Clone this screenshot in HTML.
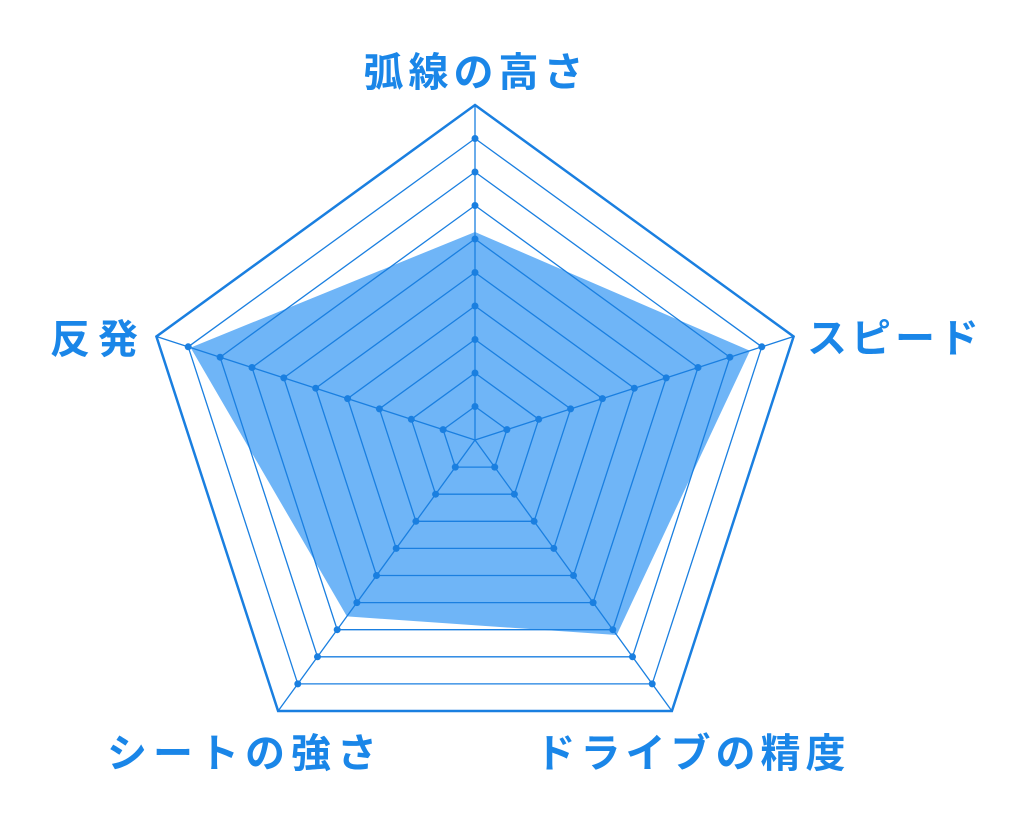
<!DOCTYPE html>
<html><head><meta charset="utf-8"><style>
html,body{margin:0;padding:0;background:#fff;}
svg{display:block}
text{font-family:"Liberation Sans","Noto Sans CJK JP",sans-serif;font-weight:bold;fill:#1a86e8;font-size:40px;}
</style></head><body>
<svg width="1024" height="819" viewBox="0 0 1024 819" xmlns="http://www.w3.org/2000/svg">
<rect x="0" y="0" width="1024" height="819" fill="#ffffff"/>
<polygon points="475,232 749.9,350.7 616.7,635 346.9,616.4 190.6,347.6" fill="#6fb5f7"/>
<g fill="none" stroke="#1a7fe0" stroke-width="1.3">
<polygon points="475,406.5 506.9,429.6 494.7,467.1 455.3,467.1 443.1,429.6"/>
<polygon points="475,373 538.7,419.3 514.4,494.2 435.6,494.2 411.3,419.3"/>
<polygon points="475,339.5 570.6,408.9 534.1,521.3 415.9,521.3 379.4,408.9"/>
<polygon points="475,306 602.4,398.6 553.8,548.4 396.2,548.4 347.6,398.6"/>
<polygon points="475,272.5 634.3,388.2 573.5,575.5 376.5,575.5 315.7,388.2"/>
<polygon points="475,239 666.2,377.9 593.1,602.6 356.9,602.6 283.8,377.9"/>
<polygon points="475,205.5 698,367.5 612.8,629.7 337.2,629.7 252,367.5"/>
<polygon points="475,172 729.9,357.2 632.5,656.8 317.5,656.8 220.1,357.2"/>
<polygon points="475,138.5 761.8,346.8 652.2,683.9 297.8,683.9 188.2,346.8"/>
<polygon points="475,105 793.6,336.5 671.9,711 278.1,711 156.4,336.5" stroke-width="2.5"/>
<line x1="475" y1="440" x2="475" y2="105"/>
<line x1="475" y1="440" x2="793.6" y2="336.5"/>
<line x1="475" y1="440" x2="671.9" y2="711"/>
<line x1="475" y1="440" x2="278.1" y2="711"/>
<line x1="475" y1="440" x2="156.4" y2="336.5"/>
</g>
<g fill="#1a7fe0">
<circle cx="475" cy="406.5" r="3.5"/><circle cx="506.9" cy="429.6" r="3.5"/><circle cx="494.7" cy="467.1" r="3.5"/><circle cx="455.3" cy="467.1" r="3.5"/><circle cx="443.1" cy="429.6" r="3.5"/>
<circle cx="475" cy="373" r="3.5"/><circle cx="538.7" cy="419.3" r="3.5"/><circle cx="514.4" cy="494.2" r="3.5"/><circle cx="435.6" cy="494.2" r="3.5"/><circle cx="411.3" cy="419.3" r="3.5"/>
<circle cx="475" cy="339.5" r="3.5"/><circle cx="570.6" cy="408.9" r="3.5"/><circle cx="534.1" cy="521.3" r="3.5"/><circle cx="415.9" cy="521.3" r="3.5"/><circle cx="379.4" cy="408.9" r="3.5"/>
<circle cx="475" cy="306" r="3.5"/><circle cx="602.4" cy="398.6" r="3.5"/><circle cx="553.8" cy="548.4" r="3.5"/><circle cx="396.2" cy="548.4" r="3.5"/><circle cx="347.6" cy="398.6" r="3.5"/>
<circle cx="475" cy="272.5" r="3.5"/><circle cx="634.3" cy="388.2" r="3.5"/><circle cx="573.5" cy="575.5" r="3.5"/><circle cx="376.5" cy="575.5" r="3.5"/><circle cx="315.7" cy="388.2" r="3.5"/>
<circle cx="475" cy="239" r="3.5"/><circle cx="666.2" cy="377.9" r="3.5"/><circle cx="593.1" cy="602.6" r="3.5"/><circle cx="356.9" cy="602.6" r="3.5"/><circle cx="283.8" cy="377.9" r="3.5"/>
<circle cx="475" cy="205.5" r="3.5"/><circle cx="698" cy="367.5" r="3.5"/><circle cx="612.8" cy="629.7" r="3.5"/><circle cx="337.2" cy="629.7" r="3.5"/><circle cx="252" cy="367.5" r="3.5"/>
<circle cx="475" cy="172" r="3.5"/><circle cx="729.9" cy="357.2" r="3.5"/><circle cx="632.5" cy="656.8" r="3.5"/><circle cx="317.5" cy="656.8" r="3.5"/><circle cx="220.1" cy="357.2" r="3.5"/>
<circle cx="475" cy="138.5" r="3.5"/><circle cx="761.8" cy="346.8" r="3.5"/><circle cx="652.2" cy="683.9" r="3.5"/><circle cx="297.8" cy="683.9" r="3.5"/><circle cx="188.2" cy="346.8" r="3.5"/>
</g>
<text x="476" y="86" text-anchor="middle" letter-spacing="5">弧線の高さ</text>
<text x="895" y="352" text-anchor="middle" letter-spacing="4">スピード</text>
<text x="98" y="353" text-anchor="middle" letter-spacing="8">反発</text>
<text x="245" y="767" text-anchor="middle" letter-spacing="6">シートの強さ</text>
<text x="693" y="767" text-anchor="middle" letter-spacing="5">ドライブの精度</text>
</svg>
</body></html>
